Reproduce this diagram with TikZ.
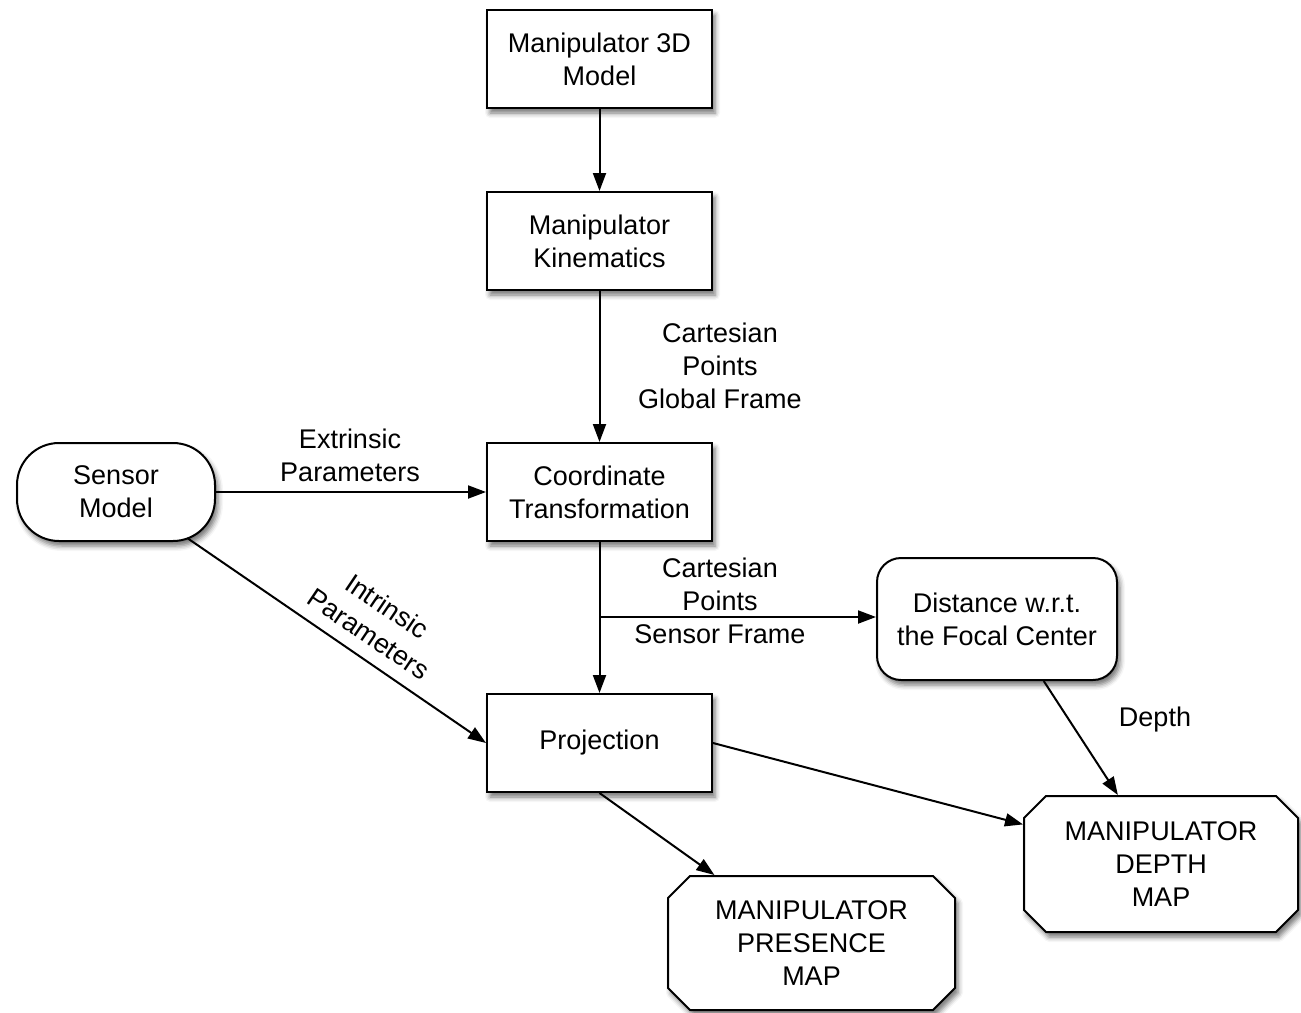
\documentclass[tikz,border=0pt]{standalone}
\usepackage{fontspec}
\setmainfont{Liberation Sans}
\usetikzlibrary{shapes.misc,arrows.meta,shadows.blur,backgrounds}
\begin{document}
\begin{tikzpicture}[x=1pt,y=-1pt,
  every node/.style={font=\fontsize{27}{33}\selectfont, align=center, inner sep=0pt},
  shad/.style={blur shadow={shadow xshift=3pt, shadow yshift=-5pt, shadow blur radius=5pt, shadow opacity=55}},
  box/.style={draw, line width=2pt, fill=white, minimum width=225pt, minimum height=98pt, shad},
  pill/.style={draw, line width=2pt, fill=white, rounded corners=42pt, minimum width=198pt, minimum height=98pt, shad},
  rbox/.style={draw, line width=2pt, fill=white, rounded corners=24pt, minimum width=240pt, minimum height=122pt, shad},
  cbox/.style={chamfered rectangle, chamfered rectangle xsep=11pt, chamfered rectangle ysep=11pt, draw, line width=2pt, fill=white, shad},
  conn/.style={line width=2pt, -{Triangle[length=18pt,width=13pt]}},
  lbl/.style={font=\fontsize{27}{33}\selectfont}
]
\useasboundingbox (0,0) rectangle (1301,1012);
\node[box] (m3d) at (599.5,59) {Manipulator 3D\\Model};
\node[box] (kin) at (599.5,241) {Manipulator\\Kinematics};
\node[box] (coord) at (599.5,492) {Coordinate\\Transformation};
\node[box] (proj) at (599.5,743) {Projection};
\node[pill] (sensor) at (116,492) {Sensor\\Model};
\node[rbox] (dist) at (997,619) {Distance w.r.t.\\the Focal Center};
\node[cbox, minimum width=287pt, minimum height=134pt] (pres) at (811.5,943) {MANIPULATOR\\PRESENCE\\MAP};
\node[cbox, minimum width=274pt, minimum height=136pt] (depth) at (1161,864) {MANIPULATOR\\DEPTH\\MAP};

\node[lbl] (l1) at (720,366) {Cartesian\\Points\\Global Frame};
\node[lbl] (l2) at (350,455) {Extrinsic\\Parameters};
\node[lbl, rotate=-34] (l3) at (378,620) {Intrinsic\\Parameters};
\node[lbl] (l4) at (720,601) {Cartesian\\Points\\Sensor Frame};
\node[lbl] (l5) at (1155,720) {Depth};

\begin{scope}[on background layer]
\draw[conn] (m3d.south) -- (kin.north);
\draw[conn] (kin.south) -- (coord.north);
\draw[conn] (sensor.east) -- (coord.west);
\draw[conn, shorten <=-6pt] (sensor.-33) -- (proj.west);
\draw[conn] (coord.south) -- (proj.north);
\coordinate (br) at (599.5,617);
\draw[conn] (br) -- (br -| dist.west);
\draw[conn] (proj.east) -- (depth.164);
\draw[conn] (proj.south) -- (pres.145);
\draw[conn] (dist.-53) -- (depth.122);
\end{scope}
\end{tikzpicture}
\end{document}
